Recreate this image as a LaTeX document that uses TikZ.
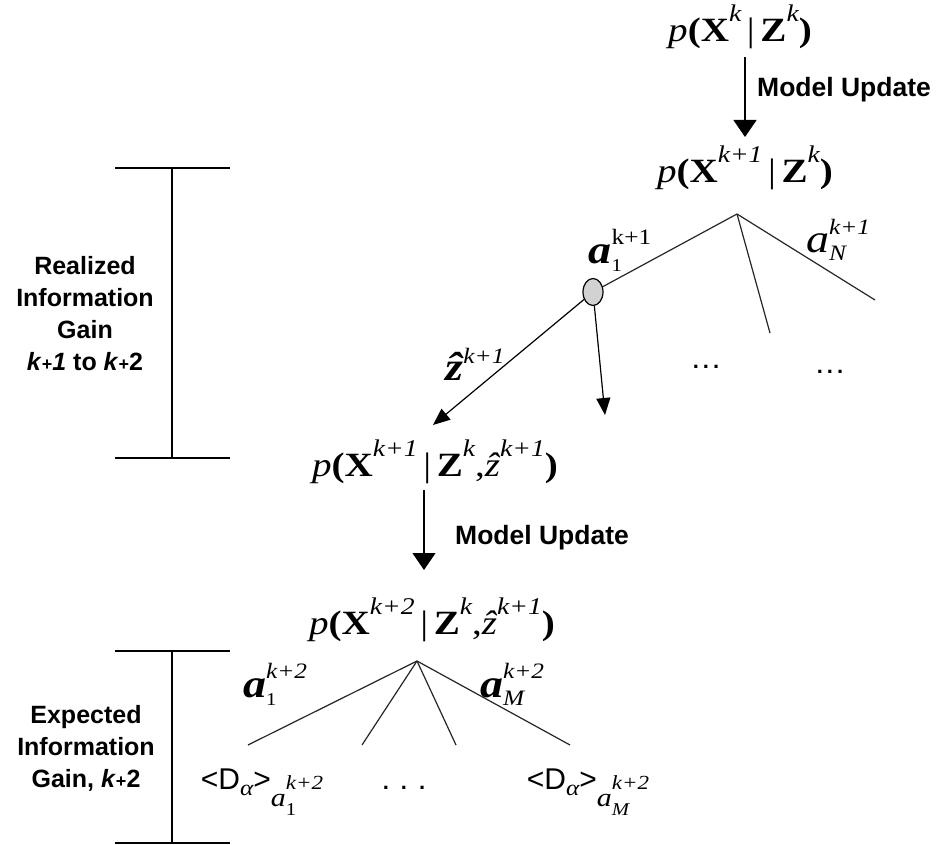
\documentclass[tikz,border=0pt]{standalone}
\usepackage{fontspec}
\setmainfont{Liberation Serif}
\setsansfont{Liberation Sans}
\newfontfamily\mfont[FakeStretch=1.15]{Liberation Serif}
\usetikzlibrary{arrows.meta,shapes.geometric}
\newcommand\Fs[1]{\fontsize{#1}{#1}\selectfont}
\newcommand\Up[2][20pt]{\raisebox{#1}{\Fs{24}\itshape #2}}
\newcommand\SSc[4]{\rlap{\raisebox{#2}{#1}}\raisebox{#4}{#3}}
\begin{document}
\begin{tikzpicture}[x=1pt,y=-1pt,
  prob/.style={inner sep=0pt, font=\mfont\fontsize{34}{40}\selectfont},
  act/.style={inner sep=0pt, font=\mfont\fontsize{40}{44}\selectfont},
  lbl/.style={inner sep=0pt, font=\sffamily\bfseries\fontsize{25}{32}\selectfont, align=center},
  mulbl/.style={inner sep=0pt, font=\sffamily\bfseries\fontsize{26.5}{32}\selectfont},
  dlbl/.style={inner sep=0pt, font=\sffamily\fontsize{30}{32}\selectfont},
  dots/.style={inner sep=0pt, font=\sffamily\bfseries\fontsize{22}{24}\selectfont},
  brk/.style={line width=1.5pt},
  edge/.style={line width=1.2pt, draw=black!85},
  bigarr/.style={line width=1.3pt, -{Triangle[width=23pt,length=17pt]}},
  smallarr/.style={line width=1.2pt, -{Triangle[width=14pt,length=17pt]}},
  oval/.style={ellipse, draw, line width=1.2pt, fill=gray!35, minimum width=20pt, minimum height=27pt, inner sep=0pt}
]
\fill[white] (0,0) rectangle (938,845);
\useasboundingbox (0,0) rectangle (938,845);

% brackets
\coordinate (b1tl) at (115,168); \coordinate (b1tr) at (230,168);
\coordinate (b1t) at (172,168); \coordinate (b1b) at (172,458);
\coordinate (b1bl) at (115,458); \coordinate (b1br) at (230,458);
\draw[brk] (b1tl) -- (b1tr); \draw[brk] (b1t) -- (b1b); \draw[brk] (b1bl) -- (b1br);
\coordinate (b2tl) at (115,651); \coordinate (b2tr) at (230,651);
\coordinate (b2t) at (172,651); \coordinate (b2b) at (172,843);
\coordinate (b2bl) at (115,843); \coordinate (b2br) at (230,843);
\draw[brk] (b2tl) -- (b2tr); \draw[brk] (b2t) -- (b2b); \draw[brk] (b2bl) -- (b2br);

\node[lbl] (real) at (85,314) {Realized\\Information\\Gain\\\textit{k}{\Fs{18}+}\textit{1} to \textit{k}{\Fs{18}+}2};
\node[lbl] (expe) at (86,748) {Expected\\Information\\Gain, \textit{k}{\Fs{18}+}2};

% top part
\node[prob] (t1) at (740,27) {{\itshape p}{\bfseries (X}\Up{k}\,|\,{\bfseries Z}\Up{k}{\bfseries )}};
\coordinate (u1a) at (745,57); \coordinate (u1b) at (745,137);
\draw[bigarr] (u1a) -- (u1b);
\node[mulbl, anchor=west] (mu1) at (757,90) {Model Update};
\node[prob] (t2) at (745,168) {{\itshape p}{\bfseries (X}\Up{k+1}\,|\,{\bfseries Z}\Up{k}{\bfseries )}};

% first tree
\coordinate (r1) at (737,214);
\coordinate (e1m) at (770,333);
\coordinate (e1r) at (875,300);
\node[oval] (ov) at (593,292) {};
\draw[edge] (r1) -- (ov);
\draw[edge] (r1) -- (e1m);
\draw[edge] (r1) -- (e1r);
\coordinate (z1) at (433,425);
\coordinate (z2) at (605,415);
\draw[smallarr] (ov) -- (z1);
\draw[smallarr] (ov) -- (z2);

\node[act] (la1) at (620,250) {{\bfseries\itshape a}\SSc{\Fs{18}1}{-8pt}{\Fs{22}k+1}{19pt}};
\node[act] (laN) at (838,240) {{\itshape a}\SSc{\Fs{22}\itshape N}{-8pt}{\Fs{22}\itshape k+1}{18pt}};
\node[act] (lz) at (475,364) {{\bfseries\itshape \^{z}}\raisebox{17pt}{\Fs{22}\itshape k+1}};
\node[dots] (dt1) at (706,367) {.\hspace{4pt}.\hspace{4pt}.};
\node[dots] (dt2) at (830,372) {.\hspace{4pt}.\hspace{4pt}.};

% middle
\node[prob] (t3) at (435,462) {{\itshape p}{\bfseries (X}\Up{k+1}\,|\,{\bfseries Z}\Up{k},{\itshape \^{z}}\Up{k+1}{\bfseries )}};
\coordinate (u2a) at (424,490); \coordinate (u2b) at (424,570);
\draw[bigarr] (u2a) -- (u2b);
\node[mulbl, anchor=west] (mu2) at (455,538) {Model Update};
\node[prob] (t4) at (432,620) {{\itshape p}{\bfseries (X}\Up{k+2}\,|\,{\bfseries Z}\Up{k},{\itshape \^{z}}\Up{k+1}{\bfseries )}};

% second tree
\coordinate (r2) at (417,661);
\coordinate (f1) at (248,745);
\coordinate (f2) at (362,745);
\coordinate (f3) at (456,745);
\coordinate (f4) at (570,745);
\draw[edge] (r2) -- (f1);
\draw[edge] (r2) -- (f2);
\draw[edge] (r2) -- (f3);
\draw[edge] (r2) -- (f4);
\node[act] (lb1) at (275,684) {{\bfseries\itshape a}\SSc{\Fs{18}1}{-8pt}{\Fs{22}\itshape k+2}{19pt}};
\node[act] (lbM) at (512,684) {{\bfseries\itshape a}\SSc{\Fs{22}\itshape M}{-8pt}{\Fs{22}\itshape k+2}{19pt}};

\node[dlbl] (d1) at (262,792) {<D\raisebox{-6pt}{\mfont\Fs{22}\itshape α}>\raisebox{-17pt}{\mfont\Fs{26}\itshape a}\SSc{\mfont\Fs{18}1}{-26pt}{\mfont\Fs{20}\itshape k+2}{0pt}};
\node[dots] (dt3) at (404,788) {.\hspace{12pt}.\hspace{12pt}.};
\node[dlbl] (d2) at (588,792) {<D\raisebox{-6pt}{\mfont\Fs{22}\itshape α}>\raisebox{-17pt}{\mfont\Fs{26}\itshape a}\SSc{\mfont\Fs{18}\itshape M}{-26pt}{\mfont\Fs{20}\itshape k+2}{0pt}};
\end{tikzpicture}
\end{document}
